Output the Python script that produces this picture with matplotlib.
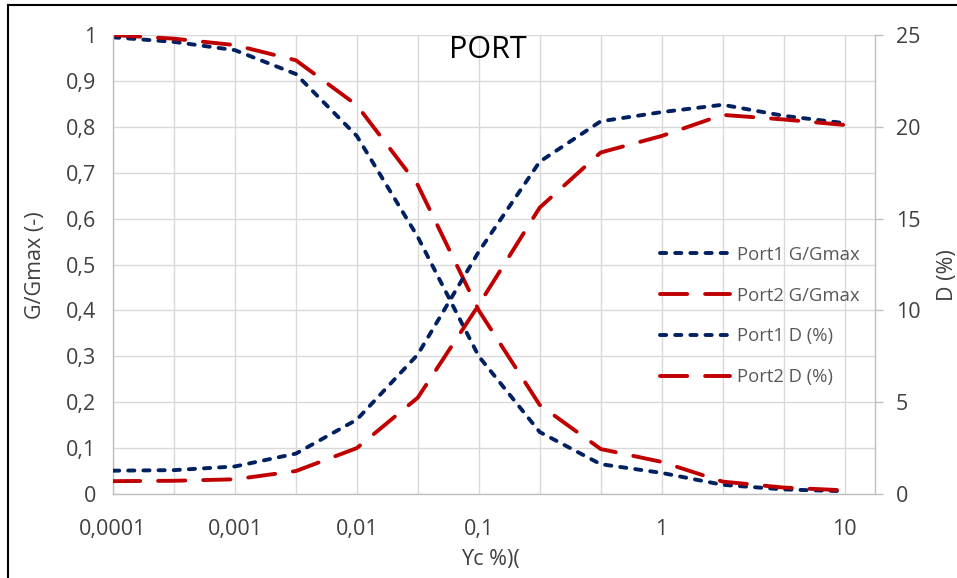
import matplotlib
matplotlib.use("Agg")
import matplotlib.pyplot as plt
from matplotlib.lines import Line2D

plt.rcParams['font.family'] = ['Open Sans', 'DejaVu Sans']

# shear strain categories (evenly spaced, Excel line chart style)
strain = [0.0001, 0.0003, 0.001, 0.003, 0.01, 0.03, 0.1, 0.2, 0.5, 1, 2, 5, 10]
strain_labels = ["0,0001", "", "0,001", "", "0,01", "", "0,1", "", "", "1", "", "", "10"]

port1_g = [0.995, 0.985, 0.967, 0.915, 0.78, 0.56, 0.30, 0.135, 0.065, 0.046, 0.02, 0.01, 0.006]
port2_g = [1.0, 0.992, 0.978, 0.945, 0.847, 0.673, 0.40, 0.194, 0.098, 0.07, 0.027, 0.014, 0.008]
port1_d = [1.27, 1.3, 1.5, 2.2, 4.05, 7.6, 13.2, 18.1, 20.3, 20.8, 21.2, 20.6, 20.2]
port2_d = [0.7, 0.72, 0.8, 1.25, 2.5, 5.25, 10.3, 15.6, 18.6, 19.5, 20.65, 20.4, 20.1]

yticks_left = [0, 0.1, 0.2, 0.3, 0.4, 0.5, 0.6, 0.7, 0.8, 0.9, 1]
yticks_right = [0, 5, 10, 15, 20, 25]

blue = '#002060'
red = '#C00000'
grid_c = '#d9d9d9'
axis_c = '#bfbfbf'
text_c = '#404040'

fig = plt.figure(figsize=(9.57, 5.78), dpi=100)
ax = fig.add_axes([113 / 957, 1 - 494 / 578, 762 / 957, 459 / 578])
ax2 = ax.twinx()

x = list(range(len(strain)))

# blue dotted / red long dashed
blue_dash = (0, (1.6, 2.3))
red_dash = (0, (7.0, 4.6))
lw = 2.8

ax.plot(x, port1_g, color=blue, lw=lw, linestyle=blue_dash, dash_capstyle='round', label='Port1 G/Gmax')
ax.plot(x, port2_g, color=red, lw=lw, linestyle=red_dash, dash_capstyle='round', label='Port2 G/Gmax')
ax2.plot(x, port1_d, color=blue, lw=lw, linestyle=blue_dash, dash_capstyle='round', label='Port1 D (%)')
ax2.plot(x, port2_d, color=red, lw=lw, linestyle=red_dash, dash_capstyle='round', label='Port2 D (%)')

ax.set_xlim(0, 12.5)
ax.set_ylim(0, 1)
ax2.set_ylim(0, 25)

ax.set_xticks(x)
ax.set_xticklabels(strain_labels)
ax.set_yticks(yticks_left)
ax.set_yticklabels([str(v).replace('.', ',') for v in yticks_left])
ax2.set_yticks(yticks_right)

ax.grid(True, color=grid_c, lw=1.0)
ax.set_axisbelow(True)

for s in ['top', 'right']:
    ax.spines[s].set_visible(False)
for s in ['top', 'left', 'bottom']:
    ax2.spines[s].set_visible(False)
ax.spines['left'].set_color(axis_c)
ax.spines['bottom'].set_color(axis_c)
ax2.spines['right'].set_color(axis_c)
for sp in [ax.spines['left'], ax.spines['bottom'], ax2.spines['right']]:
    sp.set_linewidth(1.0)

ax.tick_params(axis='x', length=0, pad=18, labelsize=15.5, labelcolor=text_c)
ax.tick_params(axis='y', length=0, pad=12, labelsize=15.5, labelcolor=text_c)
ax2.tick_params(axis='y', length=6, width=1.0, color=axis_c, pad=9, labelsize=15.5, labelcolor=text_c)

ax.set_ylabel('G/Gmax (-)', fontsize=15.5, color=text_c)
ax.yaxis.set_label_coords((46 - 113) / 762, (494 - 265) / 459)
ax2.set_ylabel('D (%)', fontsize=15.5, color=text_c)
ax2.yaxis.set_label_coords((937 - 113) / 762, (494 - 275) / 459)
ax.set_xlabel('ϒc %)(', fontsize=15.5, color=text_c)
ax.xaxis.set_label_coords((490 - 113) / 762, (494 - 549) / 459)

fig.text(488 / 957, 1 - 50 / 578, 'PORT', fontsize=22, ha='center', va='center', color='black')

handles = ax.get_legend_handles_labels()[0] + ax2.get_legend_handles_labels()[0]
labels = [h.get_label() for h in handles]
leg = ax2.legend(handles, labels, loc='upper left', bbox_to_anchor=(643 / 957, 1 - 229 / 578),
                 bbox_transform=fig.transFigure, frameon=False, fontsize=13.3,
                 handlelength=3.8, handletextpad=0.4, labelspacing=1.24)
for t in leg.get_texts():
    t.set_color('#595959')

# outer border of the picture
fig.add_artist(Line2D([8 / 957, 8 / 957], [0, 1 - 5 / 578], transform=fig.transFigure, color='black', lw=1.5))
fig.add_artist(Line2D([8 / 957, 1], [1 - 5 / 578, 1 - 5 / 578], transform=fig.transFigure, color='black', lw=1.5))

fig.savefig('out.png', dpi=100)
